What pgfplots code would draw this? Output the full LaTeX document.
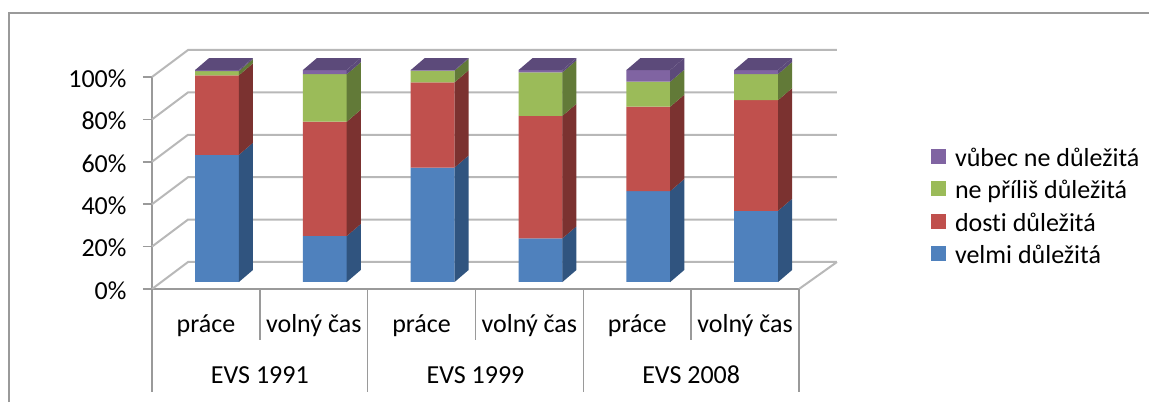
\documentclass[border=0pt]{standalone}
\usepackage{pgfplots}
\pgfplotsset{compat=1.18}
\usepackage{pgfplotstable}
\usepackage{fontspec}
\setmainfont[Ligatures=NoCommon]{Carlito}
\definecolor{cA}{HTML}{4F81BD}\definecolor{cB}{HTML}{C0504D}\definecolor{cC}{HTML}{9BBB59}\definecolor{cD}{HTML}{8064A2}
\definecolor{dA}{HTML}{30547F}\definecolor{dB}{HTML}{7B3230}\definecolor{dC}{HTML}{627A38}\definecolor{dD}{HTML}{5C4A7A}
\definecolor{gridc}{HTML}{B8B8B8}\definecolor{axc}{HTML}{9A9A9A}
\pgfplotstableread{
x velmi dosti nepr vubec
0.603 60.0 37.5 2.0 0.5
1.603 21.7 53.9 22.4 2.0
2.603 54.0 40.2 5.5 0.3
3.603 20.6 57.8 20.5 1.1
4.603 42.9 39.8 11.8 5.5
5.603 33.6 52.2 12.3 1.9
}\evsdata
% right edge of a bar, lower and upper sum, colour
\newcommand{\sideface}[4]{%
  \pgfmathsetmacro\xa{#1+0.13}%
  \pgfmathsetmacro\ya{#2+3.3}\pgfmathsetmacro\yb{#3+3.3}%
  \pgfmathsetmacro\yc{#2+8.96}\pgfmathsetmacro\yd{#3+8.96}%
  \addplot[fill=#4,draw=none,forget plot,stack plots=false] coordinates {(#1,\ya)(\xa,\yc)(\xa,\yd)(#1,\yb)} --cycle;%
}
\newcommand{\barsides}[5]{%
  \pgfmathsetmacro\xr{#1+0.203}%
  \pgfmathsetmacro\xl{#1-0.203}%
  \pgfmathsetmacro\xrr{#1+0.333}%
  \pgfmathsetmacro\xll{#1-0.073}%
  \pgfmathsetmacro\sa{#2}\pgfmathsetmacro\sb{#2+#3}\pgfmathsetmacro\sc{#2+#3+#4}\pgfmathsetmacro\sd{#2+#3+#4+#5}%
  \sideface{\xr}{0}{\sa}{dA}\sideface{\xr}{\sa}{\sb}{dB}\sideface{\xr}{\sb}{\sc}{dC}\sideface{\xr}{\sc}{\sd}{dD}%
  \pgfmathsetmacro\ta{\sd+3.3}\pgfmathsetmacro\tb{\sd+8.96}%
  \addplot[fill=dD,draw=none,forget plot,stack plots=false] coordinates {(\xl,\ta)(\xll,\tb)(\xrr,\tb)(\xr,\ta)} --cycle;%
}
\newcommand{\wall}[1]{%
  \pgfmathsetmacro\wb{#1+12.74}%
  \addplot[gridc,line width=2pt,forget plot,stack plots=false] coordinates {(0,#1)(0.334,\wb)(6.352,\wb)};%
}
\begin{document}
\begin{tikzpicture}[x=1pt,y=1pt]
\path[use as bounding box] (0,0) rectangle (1149,402);
\draw[axc,line width=1.5pt] (9,0) -- (9,389) -- (1149,389);
\begin{axis}[
  at={(152pt,113pt)},anchor=south west,
  scale only axis,width=647pt,height=212pt,
  xmin=0,xmax=6,ymin=0,ymax=100,clip=false,
  axis x line*=bottom,axis y line*=left,
  axis line style={axc,line width=1.6pt,-},
  xtick={0.5,1.5,2.5,3.5,4.5,5.5},
  xticklabels={práce,volný čas,práce,volný čas,práce,volný čas},
  x tick style={draw=none},
  x tick label style={font=\fontsize{26}{29}\selectfont,yshift=-13pt},
  ytick={0,20,40,60,80,100},
  yticklabel={\pgfmathprintnumber{\tick}\%},
  /pgf/number format/assume math mode=true,
  y tick label style={font=\fontsize{26}{29}\selectfont,xshift=-13pt,yshift=-1.5pt},
  y tick style={axc,line width=1.6pt},
  tick align=outside,major tick length=9pt,
  reverse legend,
  legend cell align=left,
  legend style={draw=none,fill=none,at={(779pt,246pt)},anchor=north west,
    font=\fontsize{26}{29}\selectfont,row sep=8.5pt,inner sep=0pt,outer sep=0pt,
    /tikz/every even column/.append style={column sep=7pt}},
  legend image code/.code={\fill[#1] (0pt,-13pt) rectangle (15pt,2pt);\path (22pt,0pt);},
]
% walls and floor
\wall{0}\wall{20}\wall{40}\wall{60}\wall{80}\wall{100}
\addplot[gridc,line width=2pt,forget plot,stack plots=false] coordinates {(6,0)(6.352,12.74)};
% category brackets
\addplot[axc,line width=1.6pt,forget plot,stack plots=false] coordinates {(1,0)(1,-24)};
\addplot[axc,line width=1.6pt,forget plot,stack plots=false] coordinates {(3,0)(3,-24)};
\addplot[axc,line width=1.6pt,forget plot,stack plots=false] coordinates {(5,0)(5,-24)};
\addplot[axc,line width=1.6pt,forget plot,stack plots=false] coordinates {(0,0)(0,-48.6)};
\addplot[axc,line width=1.6pt,forget plot,stack plots=false] coordinates {(2,0)(2,-48.6)};
\addplot[axc,line width=1.6pt,forget plot,stack plots=false] coordinates {(4,0)(4,-48.6)};
\addplot[axc,line width=1.6pt,forget plot,stack plots=false] coordinates {(6,0)(6,-48.6)};
% front faces
\addplot[ybar,stack plots=y,bar width=44pt,bar shift=0pt,yshift=7pt,fill=cA,draw=none] table[x=x,y=velmi]{\evsdata};
\addlegendentry{velmi důležitá}
\addplot[ybar,stack plots=y,bar width=44pt,bar shift=0pt,yshift=7pt,fill=cB,draw=none] table[x=x,y=dosti]{\evsdata};
\addlegendentry{dosti důležitá}
\addplot[ybar,stack plots=y,bar width=44pt,bar shift=0pt,yshift=7pt,fill=cC,draw=none] table[x=x,y=nepr]{\evsdata};
\addlegendentry{ne příliš důležitá}
\addplot[ybar,stack plots=y,bar width=44pt,bar shift=0pt,yshift=7pt,fill=cD,draw=none] table[x=x,y=vubec]{\evsdata};
\addlegendentry{vůbec ne důležitá}
% side and top faces
\barsides{0.603}{60.0}{37.5}{2.0}{0.5}
\barsides{1.603}{21.7}{53.9}{22.4}{2.0}
\barsides{2.603}{54.0}{40.2}{5.5}{0.3}
\barsides{3.603}{20.6}{57.8}{20.5}{1.1}
\barsides{4.603}{42.9}{39.8}{11.8}{5.5}
\barsides{5.603}{33.6}{52.2}{12.3}{1.9}
\node[font=\fontsize{26}{29}\selectfont] at (axis cs:1,-40.5) {EVS 1991};
\node[font=\fontsize{26}{29}\selectfont] at (axis cs:3,-40.5) {EVS 1999};
\node[font=\fontsize{26}{29}\selectfont] at (axis cs:5,-40.5) {EVS 2008};
\end{axis}
\end{tikzpicture}
\end{document}
